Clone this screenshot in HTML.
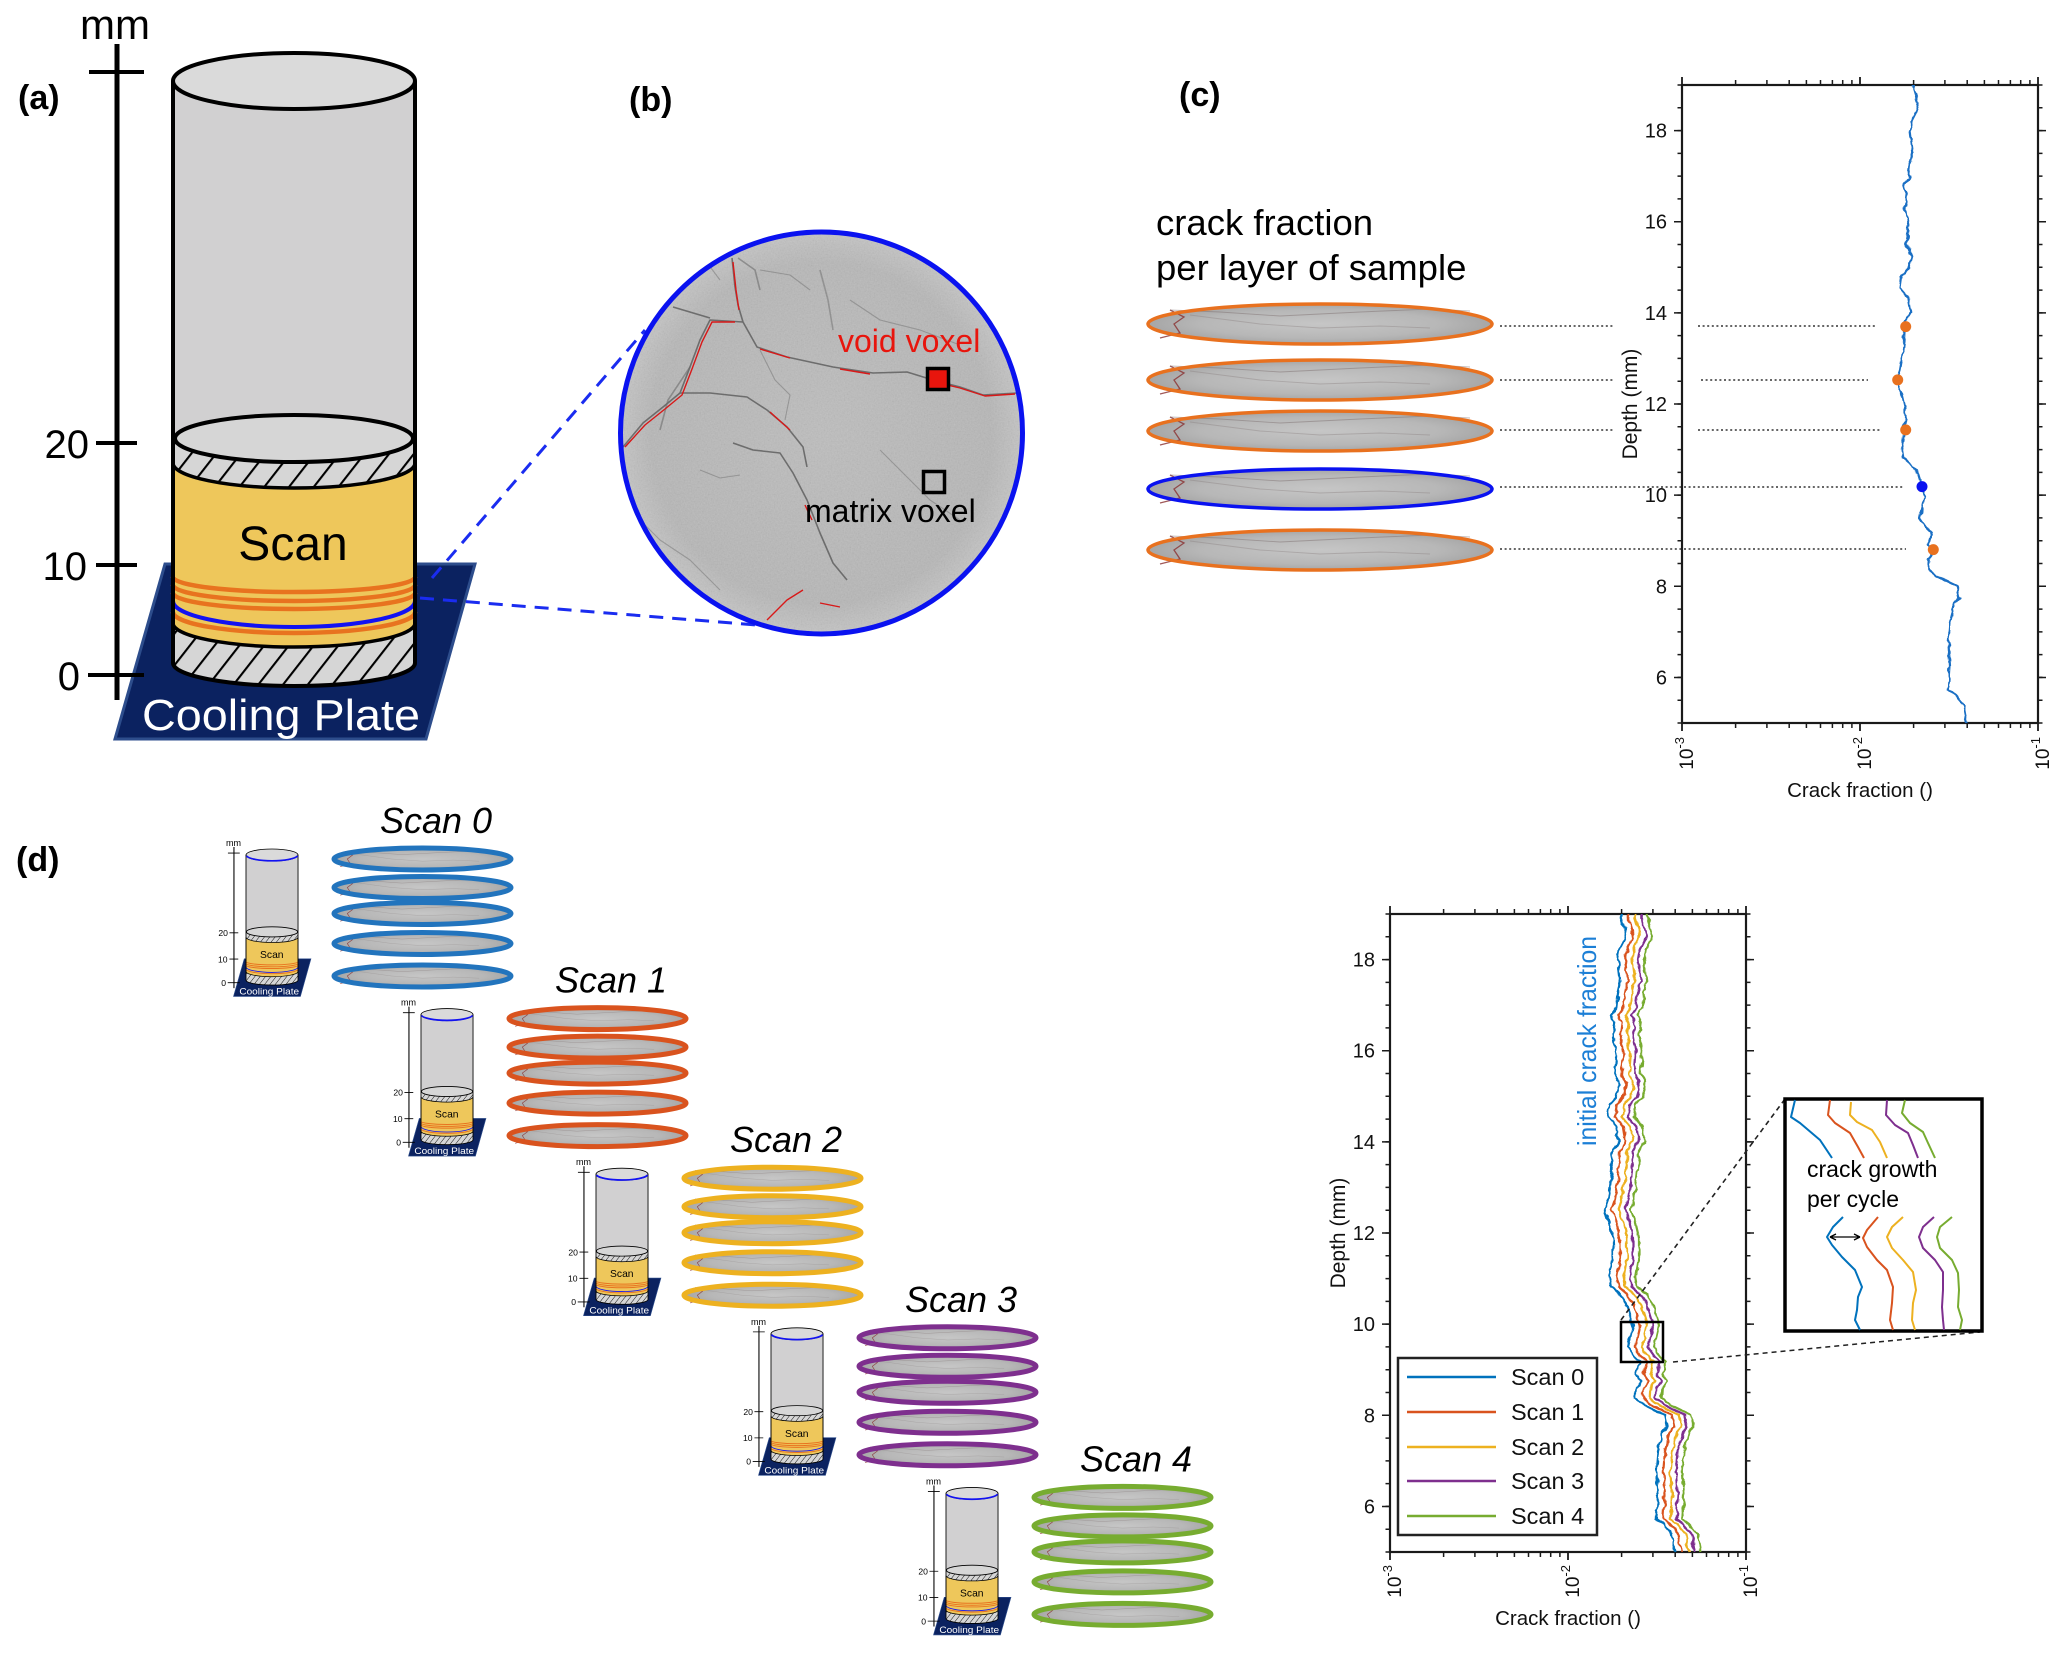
<!DOCTYPE html>
<html><head><meta charset="utf-8"><style>html,body{margin:0;padding:0;background:#fff}svg{display:block}</style></head>
<body>
<svg width="2067" height="1655" viewBox="0 0 2067 1655" xmlns="http://www.w3.org/2000/svg" font-family="Liberation Sans, Arial, sans-serif">
<defs>
  <pattern id="hatch" patternUnits="userSpaceOnUse" width="19.5" height="40" patternTransform="rotate(38)">
    <rect width="19.5" height="40" fill="#d6d6d6"/>
    <line x1="1" y1="0" x2="1" y2="40" stroke="#000" stroke-width="2.2"/>
  </pattern>
  <radialGradient id="sg" cx="50%" cy="50%" r="50%">
    <stop offset="0" stop-color="#c6c6c6"/><stop offset="0.7" stop-color="#b7b7b7"/><stop offset="1" stop-color="#a6a6a6"/>
  </radialGradient>
  <radialGradient id="cg" cx="50%" cy="50%" r="50%">
    <stop offset="0" stop-color="#bdbdbd"/><stop offset="0.85" stop-color="#b7b7b7"/><stop offset="1" stop-color="#c4c4c4"/>
  </radialGradient>
  <filter id="nz" x="0" y="0" width="100%" height="100%">
    <feTurbulence type="fractalNoise" baseFrequency="0.7" numOctaves="2" seed="5"/>
    <feColorMatrix type="saturate" values="0"/>
  </filter>
  <filter id="wig" x="-30%" y="-5%" width="160%" height="110%" color-interpolation-filters="sRGB">
    <feTurbulence type="fractalNoise" baseFrequency="0.12" numOctaves="2" seed="7" result="t"/>
    <feColorMatrix in="t" type="matrix" values="1 0 0 0 0  0 0 0 0 0.5  0 0 0 0 0  0 0 0 0 1" result="t2"/>
    <feDisplacementMap in="SourceGraphic" in2="t2" scale="6" xChannelSelector="R" yChannelSelector="G"/>
  </filter>
  <clipPath id="cc"><circle cx="821.5" cy="433" r="201"/></clipPath>

  <g id="cyl">
    <polygon points="165,564 475,564 426,739 115,739" fill="#0b2260" stroke="#2d4d8c" stroke-width="3"/>
    <line x1="117" y1="44" x2="117" y2="700" stroke="#000" stroke-width="5"/>
    <path d="M89,72H144M96,443H137M96,565H137M88,675H144" stroke="#000" stroke-width="4"/>
    <path d="M173,81 V663 A121,23 0 0 0 415,663 V81 Z" fill="#d1d0d1"/>
    <path d="M173,623 A121,24 0 0 0 415,623 V663 A121,23 0 0 1 173,663 Z" fill="url(#hatch)"/>
    <path d="M175,438.5 A119,23.5 0 0 0 413,438.5 L415,463 A121,25 0 0 1 173,463 Z" fill="url(#hatch)"/>
    <path d="M173,463 A121,25 0 0 0 415,463 V623 A121,24 0 0 1 173,623 Z" fill="#eec75b" stroke="#000" stroke-width="3.5"/>
    <g fill="none" stroke="#e8731f" stroke-width="4.5">
      <path d="M173,577 A121,15 0 0 0 415,577"/>
      <path d="M173,585 A121,16 0 0 0 415,585"/>
      <path d="M173,593 A121,16 0 0 0 415,593"/>
      <path d="M173,612 A121,21 0 0 0 415,612"/>
    </g>
    <path d="M173,601 A121,26 0 0 0 415,601" fill="none" stroke="#1212f2" stroke-width="4"/>
    <ellipse cx="294" cy="438.5" rx="119" ry="23.5" fill="#d6d6d6" stroke="#000" stroke-width="4"/>
    <path d="M173,81 V663 A121,23 0 0 0 415,663 V81" fill="none" stroke="#000" stroke-width="4"/>
    <ellipse cx="294" cy="81" rx="121" ry="28" fill="#dadada" stroke="#000" stroke-width="4"/>
  </g>

  <g id="sl">
    <ellipse rx="172" ry="20" fill="url(#sg)"/>
    <path d="M-160,14 L-140,9 L-146,0 L-136,-7 L-150,-14" stroke="#8a3030" stroke-width="1.3" fill="none" opacity="0.8"/>
    <path d="M-150,-14 L-100,-12 L-40,-8 L40,-12 L110,-15 L150,-13" stroke="#7a6a6a" stroke-width="0.9" fill="none" opacity="0.45"/>
    <path d="M-130,-9 L-60,0 L0,4 L60,2 L110,4" stroke="#8a8080" stroke-width="0.9" fill="none" opacity="0.4"/>
  </g>

  <g id="axc" fill="none" stroke="#1a1a1a">
    <rect x="1682" y="85" width="356" height="638" stroke-width="2.2"/>
    <line x1="1679.75" y1="84.25" x2="1679.75" y2="723.75" stroke-width="4.5" stroke-dasharray="1.5 21.286"/>
    <line x1="1678" y1="129.85" x2="1678" y2="678.2" stroke-width="8" stroke-dasharray="1.5 89.64"/>
    <line x1="2040.25" y1="84.25" x2="2040.25" y2="723.75" stroke-width="4.5" stroke-dasharray="1.5 21.286"/>
    <line x1="2042" y1="129.85" x2="2042" y2="678.2" stroke-width="8" stroke-dasharray="1.5 89.64"/>
    <path stroke-width="1.5" d="M1735.6,723v5M1766.9,723v5M1789.2,723v5M1806.4,723v5M1820.5,723v5M1832.4,723v5M1842.7,723v5M1851.9,723v5M1913.6,723v5M1944.9,723v5M1967.2,723v5M1984.4,723v5M1998.5,723v5M2010.4,723v5M2020.7,723v5M2029.9,723v5"/>
    <path stroke-width="1.5" d="M1735.6,85v-5M1766.9,85v-5M1789.2,85v-5M1806.4,85v-5M1820.5,85v-5M1832.4,85v-5M1842.7,85v-5M1851.9,85v-5M1913.6,85v-5M1944.9,85v-5M1967.2,85v-5M1984.4,85v-5M1998.5,85v-5M2010.4,85v-5M2020.7,85v-5M2029.9,85v-5"/>
    <path stroke-width="1.8" d="M1682,723v8M1860,723v8M2038,723v8M1682,85v-8M1860,85v-8M2038,85v-8"/>
  </g>

  <polyline id="cv" fill="none" points="1913.3,85 1913.3,89.1 1918.3,106 1916.7,110.9 1911.7,120.6 1910,130.3 1912.7,152.1 1910,164.2 1908.3,178.8 1903.3,186 1906.7,193.3 1905,205.4 1908.3,224.8 1906.7,244.2 1911.7,256.3 1908.3,268.4 1901.7,275.7 1900,287.8 1908.3,297.5 1910.7,312.1 1905,321.8 1904,341.1 1901.7,360.5 1900,370.2 1896.7,379.9 1901.7,394.5 1905,409 1905,428.4 1901.7,447.8 1903.3,457.5 1911.7,464.8 1918.3,474.4 1922,486.6 1925,496.3 1920,518.1 1926.7,527.8 1931.7,532.6 1928.3,544.7 1933.3,552 1928.3,559.3 1927.7,569 1936.7,576.2 1946.7,581.1 1956.7,585.9 1959.3,598 1955,602.9 1950,622.3 1948.3,641.7 1950,665.9 1948.3,690 1955,694.9 1963.3,704.5 1966,719 1967,723"/>
</defs>

<!-- panel labels -->
<g font-weight="bold" font-size="34" fill="#000">
  <text x="18" y="109">(a)</text>
  <text x="629" y="111">(b)</text>
  <text x="1179" y="106">(c)</text>
  <text x="16" y="871">(d)</text>
</g>

<!-- (a) big cylinder -->
<use href="#cyl"/>
<g fill="#000">
  <text x="115" y="39" font-size="42" text-anchor="middle">mm</text>
  <text x="89" y="458" font-size="40" text-anchor="end">20</text>
  <text x="87" y="580" font-size="40" text-anchor="end">10</text>
  <text x="80" y="690" font-size="40" text-anchor="end">0</text>
  <text x="293" y="560" font-size="48" text-anchor="middle">Scan</text>
  <text x="281" y="730" font-size="44" fill="#fff" text-anchor="middle" textLength="278" lengthAdjust="spacingAndGlyphs">Cooling Plate</text>
</g>

<!-- dashed connectors a -> b -->
<g stroke="#1a2cf0" stroke-width="3" stroke-dasharray="14 9" fill="none">
  <line x1="432" y1="578" x2="645" y2="330"/>
  <line x1="420" y1="598" x2="757" y2="625"/>
</g>

<!-- (b) circle -->
<circle cx="821.5" cy="433" r="201" fill="url(#cg)"/>
<rect x="615" y="227" width="414" height="412" filter="url(#nz)" opacity="0.25" clip-path="url(#cc)"/>
<g clip-path="url(#cc)" fill="none" stroke-linejoin="round">
  <g stroke="#5a5a5a" stroke-width="1.6" opacity="0.8">
    <path d="M732,258 L735,287 L738,305 L743,322"/>
    <path d="M743,322 L710,320 L700,340 L690,367 L680,393 L663,407 L643,423 L623,447"/>
    <path d="M743,322 L757,347 L787,357 L833,367 L873,373 L907,372 L933,380 L960,387 L983,395 L1017,393"/>
    <path d="M680,393 L710,393 L747,397 L767,410 L787,427 L803,447 L807,467"/>
    <path d="M733,443 L753,450 L780,453 L793,473 L807,500 L820,533 L833,563 L847,580"/>
    <path d="M673,307 L710,318"/>
    <path d="M820,270 L828,300 L833,330" opacity="0.5"/>
    <path d="M738,258 L755,270 L760,290" opacity="0.6"/>
    <path d="M690,367 L668,400 L660,430" opacity="0.6"/>
  </g>
  <g stroke="#6a6a6a" stroke-width="1.1" opacity="0.45">
    <path d="M760,350 L775,380 L790,395 L785,420"/>
    <path d="M700,470 L720,478 L740,475"/>
    <path d="M850,300 L880,320 L920,330 L960,345"/>
    <path d="M640,520 L660,540 L690,560 L720,590"/>
    <path d="M880,450 L900,470 L930,500 L960,520"/>
    <path d="M760,270 L790,275 L810,290"/>
    <path d="M700,230 L705,260 L720,280"/>
  </g>
  <g stroke="#d81818" stroke-width="1.4">
    <path d="M733,262 L736,290 L739,310"/>
    <path d="M735,322 L712,322 L702,342 L692,369 L682,395 L665,409 L645,425 L625,447"/>
    <path d="M760,349 L790,358 M840,369 L870,374 M930,381 L960,388 L985,396 L1015,394"/>
    <path d="M770,412 L790,430 M805,505 L812,520"/>
    <path d="M767,620 L787,600 L803,590 M820,603 L840,607"/>
  </g>
</g>
<circle cx="821.5" cy="433" r="201" fill="none" stroke="#0a12f0" stroke-width="5"/>
<text x="838" y="352" font-size="32" fill="#e8150d">void voxel</text>
<rect x="927.5" y="368.5" width="21" height="21" fill="#e8150d" stroke="#000" stroke-width="3.5"/>
<rect x="923.5" y="471.5" width="21" height="21" fill="none" stroke="#000" stroke-width="3.5"/>
<text x="805" y="522" font-size="32" fill="#000">matrix voxel</text>

<!-- (c) text and slices -->
<text x="1156" y="235" font-size="36.5" fill="#000">crack fraction</text>
<text x="1156" y="280" font-size="36.5" fill="#000">per layer of sample</text>
<use href="#sl" transform="translate(1320,324)"/>
<use href="#sl" transform="translate(1320,380)"/>
<use href="#sl" transform="translate(1320,431)"/>
<use href="#sl" transform="translate(1320,489)"/>
<use href="#sl" transform="translate(1320,550)"/>
<g fill="none" stroke-width="3.5">
  <ellipse cx="1320" cy="324" rx="172" ry="20" stroke="#e8711f"/>
  <ellipse cx="1320" cy="380" rx="172" ry="20" stroke="#e8711f"/>
  <ellipse cx="1320" cy="431" rx="172" ry="20" stroke="#e8711f"/>
  <ellipse cx="1320" cy="489" rx="172" ry="20" stroke="#0a12f0"/>
  <ellipse cx="1320" cy="550" rx="172" ry="20" stroke="#e8711f"/>
</g>
<g stroke="#333" stroke-width="1.6" stroke-dasharray="2 2.6" fill="none">
  <path d="M1500,326H1613M1698,326H1876"/>
  <path d="M1500,380H1613M1701,380H1868"/>
  <path d="M1500,430H1613M1698,430H1880"/>
  <path d="M1500,487H1903"/>
  <path d="M1500,549H1906"/>
</g>

<!-- (c) plot -->
<use href="#axc"/>
<g filter="url(#wig)"><use href="#cv" stroke="#1a6fc4" stroke-width="2.2"/></g>
<g>
  <circle cx="1905.7" cy="326.6" r="5.5" fill="#e8711f"/>
  <circle cx="1897.7" cy="379.9" r="5.5" fill="#e8711f"/>
  <circle cx="1905.7" cy="429.9" r="5.5" fill="#e8711f"/>
  <circle cx="1933.3" cy="549.6" r="5.5" fill="#e8711f"/>
  <circle cx="1922" cy="486.6" r="5.5" fill="#0a12f0"/>
</g>
<g font-size="20" fill="#111" text-anchor="end">
  <text x="1667" y="137.6">18</text>
  <text x="1667" y="228.7">16</text>
  <text x="1667" y="319.9">14</text>
  <text x="1667" y="411">12</text>
  <text x="1667" y="502.1">10</text>
  <text x="1667" y="593.3">8</text>
  <text x="1667" y="684.4">6</text>
</g>
<g font-size="19" fill="#111" text-anchor="end">
  <text transform="translate(1693,737) rotate(-90)">10<tspan dy="-9" font-size="13">-3</tspan></text>
  <text transform="translate(1871,737) rotate(-90)">10<tspan dy="-9" font-size="13">-2</tspan></text>
  <text transform="translate(2049,737) rotate(-90)">10<tspan dy="-9" font-size="13">-1</tspan></text>
</g>
<text x="1860" y="797" font-size="20.5" fill="#111" text-anchor="middle">Crack fraction ()</text>
<text transform="translate(1637,404) rotate(-90)" font-size="21" fill="#111" text-anchor="middle">Depth (mm)</text>

<!-- (d) mini cylinders -->
<use href="#cyl" transform="translate(208.8,837.6) scale(0.215)"/>
<use href="#cyl" transform="translate(383.8,997.2) scale(0.215)"/>
<use href="#cyl" transform="translate(558.8,1156.8) scale(0.215)"/>
<use href="#cyl" transform="translate(733.8,1316.4) scale(0.215)"/>
<use href="#cyl" transform="translate(908.8,1476) scale(0.215)"/>
<g fill="none" stroke="#1212f2" stroke-width="8">
  <path transform="translate(208.8,837.6) scale(0.215)" d="M175,85 A121,28 0 0 0 413,85"/>
  <path transform="translate(383.8,997.2) scale(0.215)" d="M175,85 A121,28 0 0 0 413,85"/>
  <path transform="translate(558.8,1156.8) scale(0.215)" d="M175,85 A121,28 0 0 0 413,85"/>
  <path transform="translate(733.8,1316.4) scale(0.215)" d="M175,85 A121,28 0 0 0 413,85"/>
  <path transform="translate(908.8,1476) scale(0.215)" d="M175,85 A121,28 0 0 0 413,85"/>
</g>
<g transform="translate(208.8,837.6) scale(0.215)" fill="#000">
  <text x="115" y="39" font-size="42" text-anchor="middle">mm</text>
  <text x="89" y="458" font-size="40" text-anchor="end">20</text>
  <text x="87" y="580" font-size="40" text-anchor="end">10</text>
  <text x="80" y="690" font-size="40" text-anchor="end">0</text>
  <text x="293" y="560" font-size="48" text-anchor="middle">Scan</text>
  <text x="281" y="730" font-size="44" fill="#fff" text-anchor="middle" textLength="278" lengthAdjust="spacingAndGlyphs">Cooling Plate</text>
</g>
<g transform="translate(383.8,997.2) scale(0.215)" fill="#000">
  <text x="115" y="39" font-size="42" text-anchor="middle">mm</text>
  <text x="89" y="458" font-size="40" text-anchor="end">20</text>
  <text x="87" y="580" font-size="40" text-anchor="end">10</text>
  <text x="80" y="690" font-size="40" text-anchor="end">0</text>
  <text x="293" y="560" font-size="48" text-anchor="middle">Scan</text>
  <text x="281" y="730" font-size="44" fill="#fff" text-anchor="middle" textLength="278" lengthAdjust="spacingAndGlyphs">Cooling Plate</text>
</g>
<g transform="translate(558.8,1156.8) scale(0.215)" fill="#000">
  <text x="115" y="39" font-size="42" text-anchor="middle">mm</text>
  <text x="89" y="458" font-size="40" text-anchor="end">20</text>
  <text x="87" y="580" font-size="40" text-anchor="end">10</text>
  <text x="80" y="690" font-size="40" text-anchor="end">0</text>
  <text x="293" y="560" font-size="48" text-anchor="middle">Scan</text>
  <text x="281" y="730" font-size="44" fill="#fff" text-anchor="middle" textLength="278" lengthAdjust="spacingAndGlyphs">Cooling Plate</text>
</g>
<g transform="translate(733.8,1316.4) scale(0.215)" fill="#000">
  <text x="115" y="39" font-size="42" text-anchor="middle">mm</text>
  <text x="89" y="458" font-size="40" text-anchor="end">20</text>
  <text x="87" y="580" font-size="40" text-anchor="end">10</text>
  <text x="80" y="690" font-size="40" text-anchor="end">0</text>
  <text x="293" y="560" font-size="48" text-anchor="middle">Scan</text>
  <text x="281" y="730" font-size="44" fill="#fff" text-anchor="middle" textLength="278" lengthAdjust="spacingAndGlyphs">Cooling Plate</text>
</g>
<g transform="translate(908.8,1476) scale(0.215)" fill="#000">
  <text x="115" y="39" font-size="42" text-anchor="middle">mm</text>
  <text x="89" y="458" font-size="40" text-anchor="end">20</text>
  <text x="87" y="580" font-size="40" text-anchor="end">10</text>
  <text x="80" y="690" font-size="40" text-anchor="end">0</text>
  <text x="293" y="560" font-size="48" text-anchor="middle">Scan</text>
  <text x="281" y="730" font-size="44" fill="#fff" text-anchor="middle" textLength="278" lengthAdjust="spacingAndGlyphs">Cooling Plate</text>
</g>

<!-- (d) slice stacks -->
<g>
  <use href="#sl" transform="translate(422.5,859) scale(0.515,0.55)"/>
  <use href="#sl" transform="translate(422.5,887.5) scale(0.515,0.55)"/>
  <use href="#sl" transform="translate(422.5,913.5) scale(0.515,0.55)"/>
  <use href="#sl" transform="translate(422.5,943.5) scale(0.515,0.55)"/>
  <use href="#sl" transform="translate(422.5,976) scale(0.515,0.55)"/>
  <g fill="none" stroke="#2274bd" stroke-width="5">
    <ellipse cx="422.5" cy="859" rx="88.5" ry="11"/><ellipse cx="422.5" cy="887.5" rx="88.5" ry="11"/><ellipse cx="422.5" cy="913.5" rx="88.5" ry="11"/><ellipse cx="422.5" cy="943.5" rx="88.5" ry="11"/><ellipse cx="422.5" cy="976" rx="88.5" ry="11"/>
  </g>
  <use href="#sl" transform="translate(597.5,1018.6) scale(0.515,0.55)"/>
  <use href="#sl" transform="translate(597.5,1047.1) scale(0.515,0.55)"/>
  <use href="#sl" transform="translate(597.5,1073.1) scale(0.515,0.55)"/>
  <use href="#sl" transform="translate(597.5,1103.1) scale(0.515,0.55)"/>
  <use href="#sl" transform="translate(597.5,1135.6) scale(0.515,0.55)"/>
  <g fill="none" stroke="#d9531e" stroke-width="5">
    <ellipse cx="597.5" cy="1018.6" rx="88.5" ry="11"/><ellipse cx="597.5" cy="1047.1" rx="88.5" ry="11"/><ellipse cx="597.5" cy="1073.1" rx="88.5" ry="11"/><ellipse cx="597.5" cy="1103.1" rx="88.5" ry="11"/><ellipse cx="597.5" cy="1135.6" rx="88.5" ry="11"/>
  </g>
  <use href="#sl" transform="translate(772.5,1178.2) scale(0.515,0.55)"/>
  <use href="#sl" transform="translate(772.5,1206.7) scale(0.515,0.55)"/>
  <use href="#sl" transform="translate(772.5,1232.7) scale(0.515,0.55)"/>
  <use href="#sl" transform="translate(772.5,1262.7) scale(0.515,0.55)"/>
  <use href="#sl" transform="translate(772.5,1295.2) scale(0.515,0.55)"/>
  <g fill="none" stroke="#edb120" stroke-width="5">
    <ellipse cx="772.5" cy="1178.2" rx="88.5" ry="11"/><ellipse cx="772.5" cy="1206.7" rx="88.5" ry="11"/><ellipse cx="772.5" cy="1232.7" rx="88.5" ry="11"/><ellipse cx="772.5" cy="1262.7" rx="88.5" ry="11"/><ellipse cx="772.5" cy="1295.2" rx="88.5" ry="11"/>
  </g>
  <use href="#sl" transform="translate(947.5,1337.8) scale(0.515,0.55)"/>
  <use href="#sl" transform="translate(947.5,1366.3) scale(0.515,0.55)"/>
  <use href="#sl" transform="translate(947.5,1392.3) scale(0.515,0.55)"/>
  <use href="#sl" transform="translate(947.5,1422.3) scale(0.515,0.55)"/>
  <use href="#sl" transform="translate(947.5,1454.8) scale(0.515,0.55)"/>
  <g fill="none" stroke="#7e2f8e" stroke-width="5">
    <ellipse cx="947.5" cy="1337.8" rx="88.5" ry="11"/><ellipse cx="947.5" cy="1366.3" rx="88.5" ry="11"/><ellipse cx="947.5" cy="1392.3" rx="88.5" ry="11"/><ellipse cx="947.5" cy="1422.3" rx="88.5" ry="11"/><ellipse cx="947.5" cy="1454.8" rx="88.5" ry="11"/>
  </g>
  <use href="#sl" transform="translate(1122.5,1497.4) scale(0.515,0.55)"/>
  <use href="#sl" transform="translate(1122.5,1525.9) scale(0.515,0.55)"/>
  <use href="#sl" transform="translate(1122.5,1551.9) scale(0.515,0.55)"/>
  <use href="#sl" transform="translate(1122.5,1581.9) scale(0.515,0.55)"/>
  <use href="#sl" transform="translate(1122.5,1614.4) scale(0.515,0.55)"/>
  <g fill="none" stroke="#77ac30" stroke-width="5">
    <ellipse cx="1122.5" cy="1497.4" rx="88.5" ry="11"/><ellipse cx="1122.5" cy="1525.9" rx="88.5" ry="11"/><ellipse cx="1122.5" cy="1551.9" rx="88.5" ry="11"/><ellipse cx="1122.5" cy="1581.9" rx="88.5" ry="11"/><ellipse cx="1122.5" cy="1614.4" rx="88.5" ry="11"/>
  </g>
</g>
<g font-size="36" font-style="italic" fill="#000">
  <text x="380" y="833">Scan 0</text>
  <text x="555" y="992.6">Scan 1</text>
  <text x="730" y="1152.2">Scan 2</text>
  <text x="905" y="1311.8">Scan 3</text>
  <text x="1080" y="1471.4">Scan 4</text>
</g>

<!-- (d) plot -->
<use href="#axc" transform="translate(-292,829)"/>
<g filter="url(#wig)" stroke-width="2.2">
  <use href="#cv" transform="translate(-266,829)" stroke="#77ac30"/>
  <use href="#cv" transform="translate(-272,829)" stroke="#7e2f8e"/>
  <use href="#cv" transform="translate(-278,829)" stroke="#edb120"/>
  <use href="#cv" transform="translate(-285,829)" stroke="#d9531e"/>
  <use href="#cv" transform="translate(-292,829)" stroke="#0072bd"/>
</g>
<g font-size="20" fill="#111" text-anchor="end">
  <text x="1375" y="966.6">18</text>
  <text x="1375" y="1057.7">16</text>
  <text x="1375" y="1148.9">14</text>
  <text x="1375" y="1240">12</text>
  <text x="1375" y="1331.1">10</text>
  <text x="1375" y="1422.3">8</text>
  <text x="1375" y="1513.4">6</text>
</g>
<g font-size="19" fill="#111" text-anchor="end">
  <text transform="translate(1401,1565) rotate(-90)">10<tspan dy="-9" font-size="13">-3</tspan></text>
  <text transform="translate(1579,1565) rotate(-90)">10<tspan dy="-9" font-size="13">-2</tspan></text>
  <text transform="translate(1757,1565) rotate(-90)">10<tspan dy="-9" font-size="13">-1</tspan></text>
</g>
<text x="1568" y="1625" font-size="20.5" fill="#111" text-anchor="middle">Crack fraction ()</text>
<text transform="translate(1345,1233) rotate(-90)" font-size="21" fill="#111" text-anchor="middle">Depth (mm)</text>
<text transform="translate(1596,1146) rotate(-90)" font-size="26" fill="#1c7fd6" textLength="210" lengthAdjust="spacingAndGlyphs">initial crack  fraction</text>

<!-- legend -->
<rect x="1398" y="1358" width="199" height="177" fill="#fff" stroke="#222" stroke-width="2.5"/>
<g stroke-width="2.5">
  <line x1="1407" y1="1377" x2="1496" y2="1377" stroke="#0072bd"/>
  <line x1="1407" y1="1412" x2="1496" y2="1412" stroke="#d9531e"/>
  <line x1="1407" y1="1447" x2="1496" y2="1447" stroke="#edb120"/>
  <line x1="1407" y1="1481" x2="1496" y2="1481" stroke="#7e2f8e"/>
  <line x1="1407" y1="1516" x2="1496" y2="1516" stroke="#77ac30"/>
</g>
<g font-size="23.5" fill="#111">
  <text x="1511" y="1385">Scan 0</text>
  <text x="1511" y="1420">Scan 1</text>
  <text x="1511" y="1455">Scan 2</text>
  <text x="1511" y="1489">Scan 3</text>
  <text x="1511" y="1524">Scan 4</text>
</g>

<!-- zoom box + dashed connectors -->
<rect x="1621" y="1322" width="42" height="40" fill="none" stroke="#000" stroke-width="2.5"/>
<g stroke="#222" stroke-width="1.6" stroke-dasharray="5 4" fill="none">
  <line x1="1621" y1="1320" x2="1785" y2="1099"/>
  <line x1="1673" y1="1362" x2="1980" y2="1332"/>
</g>

<!-- inset -->
<rect x="1785" y="1099" width="197" height="232" fill="#fff" stroke="#000" stroke-width="3.5"/>
<g fill="none" stroke-width="2" stroke-linejoin="round">
  <polyline stroke="#0072bd" points="1795,1100 1791,1117 1800,1123 1820,1140 1832,1158"/>
  <polyline stroke="#d9531e" points="1830,1100 1828,1115 1835,1123 1850,1133 1858,1147 1864,1158"/>
  <polyline stroke="#edb120" points="1851,1102 1850,1115 1857,1122 1872,1130 1880,1142 1887,1158"/>
  <polyline stroke="#7e2f8e" points="1887,1100 1886,1115 1895,1125 1908,1133 1913,1145 1918,1158"/>
  <polyline stroke="#77ac30" points="1905,1100 1902,1113 1910,1123 1923,1132 1928,1143 1935,1158"/>
  <polyline stroke="#0072bd" points="1843,1217 1833,1227 1827,1237 1832,1245 1842,1257 1855,1270 1862,1287 1858,1297 1857,1310 1855,1320 1860,1330"/>
  <polyline stroke="#d9531e" points="1878,1217 1867,1230 1863,1238 1867,1247 1877,1260 1887,1270 1893,1287 1892,1303 1890,1320 1893,1330"/>
  <polyline stroke="#edb120" points="1903,1217 1892,1227 1887,1237 1892,1248 1903,1260 1913,1272 1916,1290 1913,1303 1912,1320 1915,1330"/>
  <polyline stroke="#7e2f8e" points="1934,1217 1923,1227 1919,1237 1923,1248 1935,1260 1943,1272 1943,1290 1942,1307 1943,1320 1944,1330"/>
  <polyline stroke="#77ac30" points="1952,1217 1940,1227 1937,1237 1940,1248 1952,1260 1958,1273 1959,1290 1958,1307 1962,1320 1960,1330"/>
</g>
<path d="M1830,1237H1860M1830,1237l6,-3M1830,1237l6,3M1860,1237l-6,-3M1860,1237l-6,3" stroke="#000" stroke-width="1.3" fill="none"/>
<text x="1807" y="1177" font-size="23" fill="#000">crack growth</text>
<text x="1807" y="1207" font-size="23" fill="#000">per cycle</text>
</svg>
</body></html>
